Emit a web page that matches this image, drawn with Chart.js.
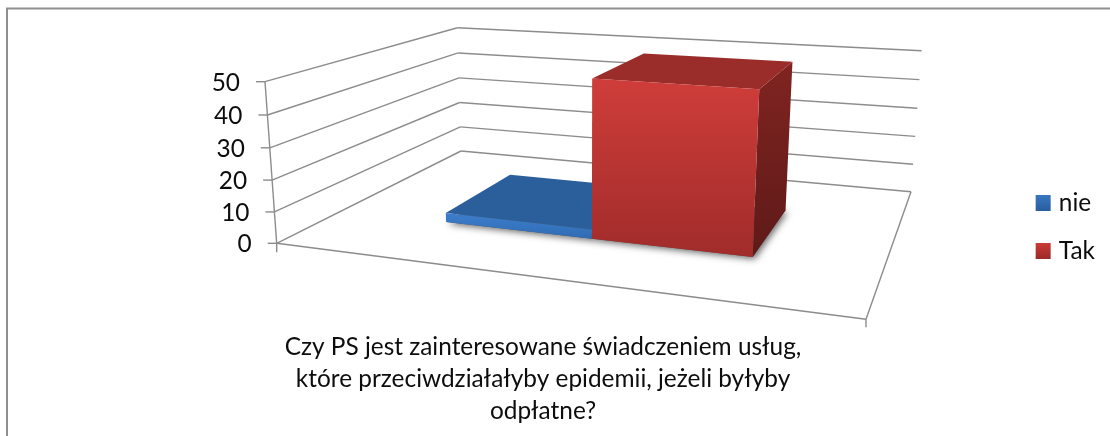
<!DOCTYPE html>
<html lang="pl"><head><meta charset="utf-8">
<style>html,body{margin:0;padding:0;background:#fff}canvas{display:block}</style>
<script src="https://cdn.jsdelivr.net/npm/chart.js@4"></script>
</head><body><canvas id="c" width="1110" height="436"></canvas>
<script>
const categories = [["Czy PS jest zainteresowane świadczeniem usług,","które przeciwdziałałyby epidemii, jeżeli byłyby","odpłatne?"]];
const seriesNames = ["nie","Tak"];
const nieValues = [3];
const takValues = [50];
const yMax = 50;
const yStep = 10;

const FONT = "Lato, Carlito, Calibri, sans-serif";
const FS = 24.4;
const INK = "#0d0d0d", AXIS = "#8c8c8c";
// camera of the 3-D box: floor corners on screen, the top of the first axis, and the vertical perspective
const floorQuad = [[276.7,243.3],[866,319.3],[911,191.7],[461,151]];
const axisTop = [265,81.7];
const liftW = -0.0365;
const depthFront = 0.297, depthBack = 0.701, widthShift = 0.004;
const looks = [
 {front:["#3c7dcb","#2f6cb4"], top:"#2b5f9b", side:["#23507f","#1d4470"], legend:["#3a79c4","#2a5f9f"]},
 {front:["#cf3d3a","#a02c2a"], top:"#9a2c29", side:["#802421","#5e1a18"], legend:["#cd3c39","#9e2b29"]}
];
function camera(q,top,r){
  const [[x0,y0],[x1,y1],[x2,y2],[x3,y3]] = q;
  const dx1=x1-x2,dx2=x3-x2,sx=x0-x1+x2-x3,dy1=y1-y2,dy2=y3-y2,sy=y0-y1+y2-y3;
  const den=dx1*dy2-dx2*dy1, g=(sx*dy2-dx2*sy)/den, h=(dx1*sy-sx*dy1)/den;
  const a=x1-x0+g*x1,b=x3-x0+h*x3,d=y1-y0+g*y1,e=y3-y0+h*y3;
  const p=top[0]*(1+r)-x0,s=top[1]*(1+r)-y0;
  return (u,v,t)=>{const w=g*u+h*v+r*t+1;return [(a*u+b*v+p*t+x0)/w,(d*u+e*v+s*t+y0)/w];};
}
const P=camera(floorQuad,axisTop,liftW);
function poly(ctx,pts,fill){ctx.beginPath();pts.forEach((p,i)=>i?ctx.lineTo(p[0],p[1]):ctx.moveTo(p[0],p[1]));ctx.closePath();ctx.fillStyle=fill;ctx.fill();}
function seg(ctx,a,b){ctx.beginPath();ctx.moveTo(a[0],a[1]);ctx.lineTo(b[0],b[1]);ctx.stroke();}
function vgrad(ctx,y0,y1,c){const g=ctx.createLinearGradient(0,y0,0,y1);g.addColorStop(0,c[0]);g.addColorStop(1,c[1]);return g;}

const legendDx = -5, legendDy = -32;
const box3d = {
  id:"box3d",
  afterLayout(chart){
    const l=chart.legend; l.left+=legendDx; l.right+=legendDx; l.top+=legendDy; l.bottom+=legendDy;
  },
  beforeDraw(chart){
    const ctx=chart.ctx;
    ctx.save();ctx.strokeStyle="#8f8f8f";ctx.lineWidth=2;
    ctx.beginPath();ctx.moveTo(7,436);ctx.lineTo(7,8.5);ctx.lineTo(1110,8.5);ctx.stroke();ctx.restore();
    // y tick labels follow the slanted axis
    const ys=chart.scales.y;
    ys.getLabelItems().forEach((it,i)=>{
      const v=ys.ticks[i].value, p=P(0,0,v/yMax);
      it.options.translation[0]=p[0]-25;
      it.options.translation[1]=p[1]+1.2;
      it.options.textAlign="right";
    });
  },
  beforeDatasetsDraw(chart){
    const ctx=chart.ctx, ys=chart.scales.y, area=chart.chartArea;
    ctx.save();
    ctx.strokeStyle=AXIS;ctx.lineWidth=1.4;
    ys.ticks.forEach(tk=>{
      const t=tk.value/yMax;
      const a=P(0,0,t),b=P(0,1,t),c=P(1,1,t);
      seg(ctx,a,b);seg(ctx,b,c);
      seg(ctx,[a[0]-9,a[1]],a);
    });
    seg(ctx,P(0,0,0),P(0,0,1));
    const A=P(0,0,0),B=P(1,0,0),C=P(1,1,0);
    seg(ctx,A,B);seg(ctx,B,C);
    seg(ctx,A,[A[0],A[1]+9]);seg(ctx,B,[B[0],B[1]+8]);
    // bars, from Chart.js's own bar elements
    chart.data.datasets.forEach((ds,i)=>{
      const el=chart.getDatasetMeta(i).data[0];
      const u0=(el.x-el.width/2-area.left)/(area.right-area.left)+widthShift;
      const u1=(el.x+el.width/2-area.left)/(area.right-area.left)+widthShift;
      const t=(el.base-el.y)/(area.bottom-area.top);
      const L=looks[i];
      const f0=P(u0,depthFront,0),f1=P(u1,depthFront,0),b1=P(u1,depthBack,0),b0=P(u0,depthBack,0);
      const F0=P(u0,depthFront,t),F1=P(u1,depthFront,t),B1=P(u1,depthBack,t),B0=P(u0,depthBack,t);
      ctx.save();
      ctx.shadowColor="rgba(0,0,0,0.6)";ctx.shadowBlur=7;ctx.shadowOffsetX=2;ctx.shadowOffsetY=2;
      poly(ctx,[f0,f1,b1,b0],"#555");
      ctx.restore();
      poly(ctx,[F1,B1,b1,f1],vgrad(ctx,B1[1],f1[1],L.side));
      poly(ctx,[F0,F1,B1,B0],L.top);
      poly(ctx,[F0,F1,f1,f0],vgrad(ctx,F0[1],f1[1],L.front));
    });
    ctx.restore();
    return false;
  }
};
new Chart(document.getElementById("c"),{
  type:"bar",
  data:{labels:categories,datasets:[
    {label:seriesNames[0],data:nieValues,backgroundColor:"#2f6cb4"},
    {label:seriesNames[1],data:takValues,backgroundColor:"#b8322f"}
  ]},
  plugins:[box3d],
  options:{
    responsive:false,animation:false,
    layout:{padding:{top:82,left:0,right:0,bottom:0}},
    datasets:{bar:{categoryPercentage:0.57,barPercentage:1}},
    plugins:{
      tooltip:{enabled:false},title:{display:false},
      legend:{position:"right",align:"center",
        labels:{boxWidth:7,boxHeight:8,padding:23.6,color:INK,font:{family:FONT,size:FS},
          generateLabels(chart){
            return chart.data.datasets.map((d,i)=>{
              const top=194+48*i, g=vgrad(chart.ctx,top,top+16,looks[i].legend);
              return {text:d.label,fillStyle:g,strokeStyle:g,lineWidth:8,datasetIndex:i,fontColor:INK};
            });
          }}}
    },
    scales:{
      x:{grid:{display:false},border:{display:false},
        afterFit(s){s.height=191;},
        ticks:{padding:78,maxRotation:0,autoSkip:false,color:INK,font:{family:FONT,size:FS,lineHeight:1.32}}},
      y:{min:0,max:yMax,grid:{display:false},border:{display:false},
        afterFit(s){s.width=65;},
        ticks:{mirror:true,stepSize:yStep,color:INK,font:{family:FONT,size:FS}}}
    }
  }
});
</script></body></html>
